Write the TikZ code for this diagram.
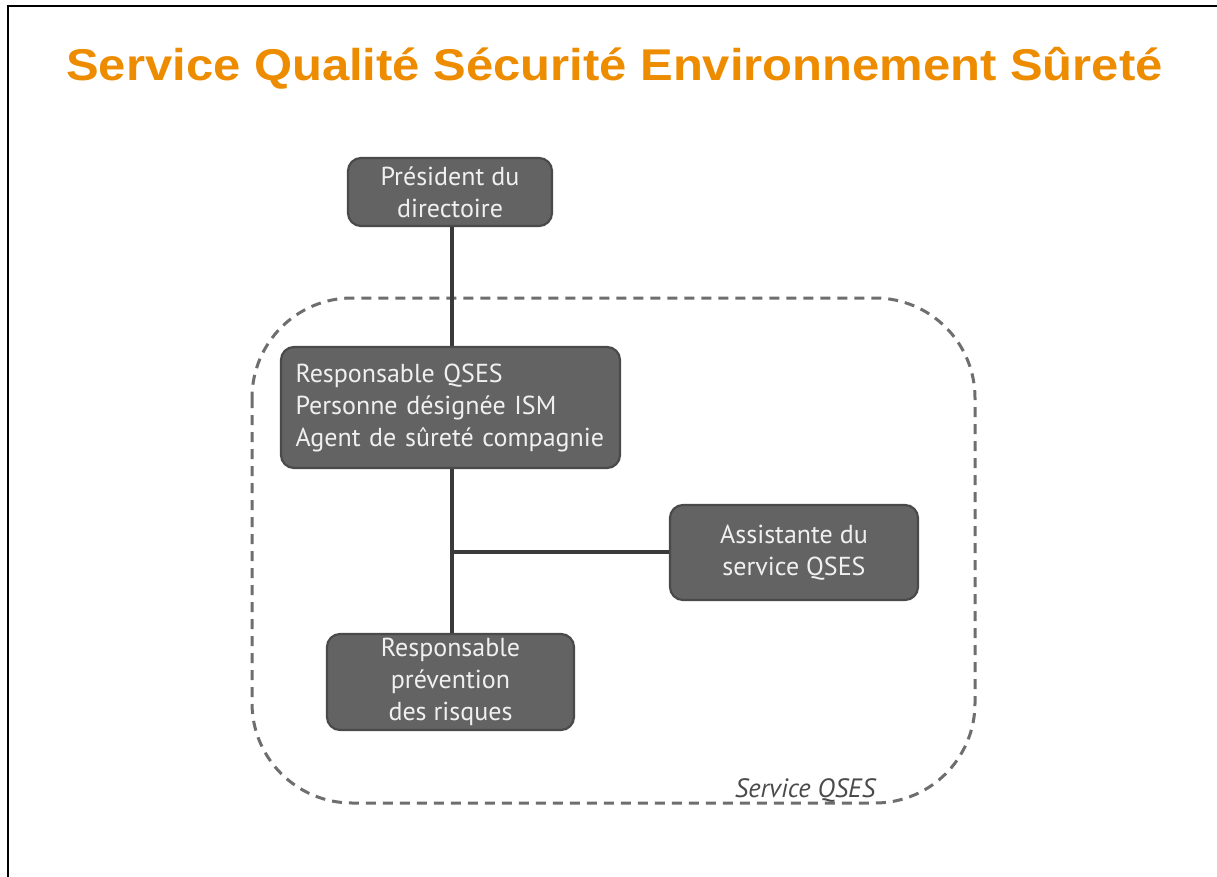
\documentclass[tikz,border=0pt]{standalone}
\usepackage{fontspec}
\setmainfont{PT Sans}
\newfontfamily\titlefont[FakeStretch=1.1]{Liberation Sans}
\definecolor{orangeT}{HTML}{EE8C00}
\definecolor{boxfill}{HTML}{636363}
\definecolor{boxline}{HTML}{4A4A4A}
\definecolor{linec}{HTML}{3A3A3A}
\definecolor{dashc}{HTML}{6E6E6E}
\begin{document}
\begin{tikzpicture}[x=1pt,y=-1pt,
  orgbox/.style={draw=boxline, line width=2.2pt, fill=boxfill, rounded corners=13pt,
    text=white!94!black, font=\fontsize{26}{32}\selectfont, inner sep=0pt},
  conn/.style={draw=linec, line width=3.2pt},
  groupline/.style={draw=dashc, line width=3pt, dash pattern=on 10pt off 7pt, rounded corners=100pt}
]
\useasboundingbox (0,0) rectangle (1217,877);
\fill[white] (0,0) rectangle (1217,877);
\draw[line width=2.4pt, black] (8,877) -- (8,6) -- (1217,6);

\node[font=\titlefont\bfseries\fontsize{44.5}{50}\selectfont, text=orangeT] (title) at (614.5,68) {Service Qualité Sécurité Environnement Sûreté};

% group
\draw[groupline] (252,298) rectangle (975,803);
\node[font=\itshape\fontsize{26.5}{30}\selectfont, text=boxline, anchor=base] (grp) at (805,797) {Service QSES};

% boxes
\node[orgbox, minimum width=204pt, minimum height=68pt, align=center] (pres) at (450,192) {Président du\\directoire};
\node[orgbox, minimum width=339pt, minimum height=121pt, align=left, text width=310pt] (resp) at (450.5,407.5) {Responsable QSES\\Personne désignée ISM\\Agent de sûreté compagnie};
\node[orgbox, minimum width=248pt, minimum height=95pt, align=center] (assist) at (794,552.5) {Assistante du\\service QSES};
\node[orgbox, minimum width=247pt, minimum height=96pt, align=center] (prev) at (450.5,682) {Responsable\\prévention\\des risques};

\coordinate (j) at (452,552);
\draw[conn] (pres.south -| j) -- (resp.north -| j);
\draw[conn] (resp.south -| j) -- (prev.north -| j);
\draw[conn] (j) -- (j -| assist.west);
\end{tikzpicture}
\end{document}
